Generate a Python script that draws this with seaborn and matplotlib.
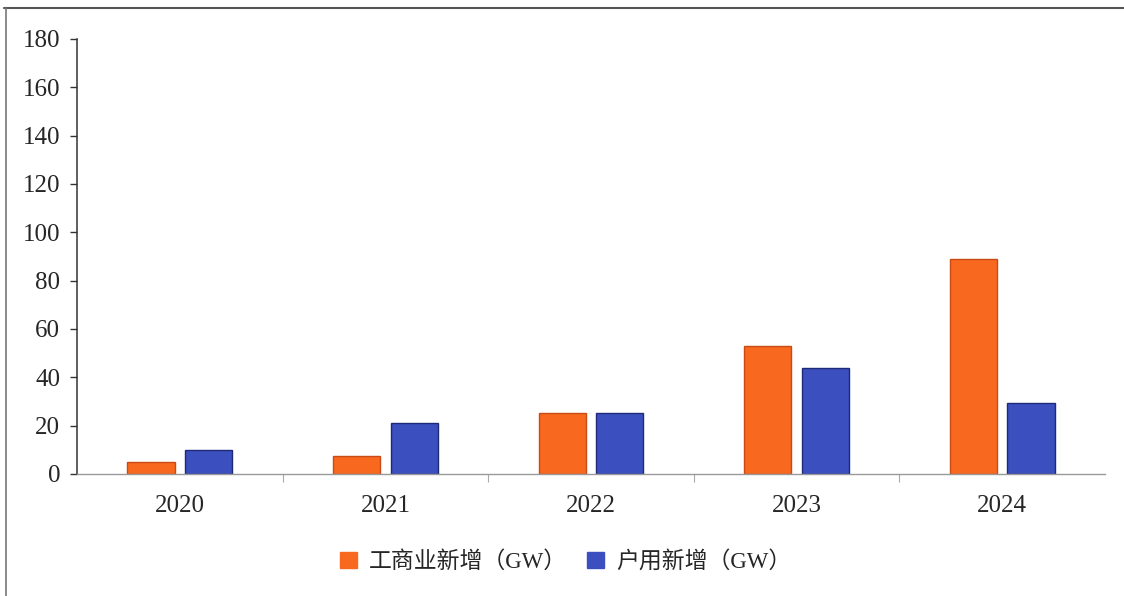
import pandas as pd
import matplotlib
matplotlib.use("Agg")
import matplotlib.pyplot as plt
import seaborn as sns
from matplotlib.lines import Line2D
from matplotlib.patches import Patch

# Chart data
years = ["2020", "2021", "2022", "2023", "2024"]
commercial = [5.0, 7.3, 25.4, 52.8, 88.8]
household = [9.8, 21.3, 25.2, 43.8, 29.3]
series_names = ["工商业新增（GW）", "户用新增（GW）"]
y_ticks = [0, 20, 40, 60, 80, 100, 120, 140, 160, 180]

colors = ["#F8691F", "#3B4FBF"]
edge_colors = ["#C94A14", "#1E2A78"]

df = pd.DataFrame({
    "year": years * 2,
    "value": commercial + household,
    "series": [series_names[0]] * len(years) + [series_names[1]] * len(years),
})

sns.set_style("white")
plt.rcParams["font.family"] = ["Liberation Serif", "Noto Sans CJK SC"]

fig = plt.figure(figsize=(11.24, 5.96), dpi=100)
ax = fig.add_axes([0.0685, 0.2047, 0.9146, 0.7299])

sns.barplot(data=df, x="year", y="value", hue="series", order=years,
            hue_order=series_names, palette=colors, width=0.56, gap=0.18,
            ax=ax, legend=False, saturation=1)

# bar outlines per series
n = len(years)
for i, bar in enumerate(ax.patches[:2 * n]):
    bar.set_edgecolor(edge_colors[i // n])
    bar.set_linewidth(1.0)

ax.set_ylim(0, 180)
ax.set_yticks(y_ticks)
ax.set_xlim(-0.5, len(years) - 0.5)
ax.set_xlabel("")
ax.set_ylabel("")

ax.tick_params(axis="y", labelsize=18, length=5, width=1, color="#333333",
               pad=7, left=True, direction="out")
ax.tick_params(axis="x", labelsize=18, length=0, pad=15)
# small separator ticks between the year groups
ax.set_xticks([i + 0.5 for i in range(len(years) - 1)], minor=True)
ax.tick_params(axis="x", which="minor", length=6, width=0.8, color="#aaaaaa",
               direction="out", bottom=True)

sns.despine(ax=ax, top=True, right=True)
ax.spines["left"].set_color("#333333")
ax.spines["left"].set_linewidth(1.1)
ax.spines["bottom"].set_color("#999999")
ax.spines["bottom"].set_linewidth(1.0)

handles = [Patch(facecolor=colors[k], edgecolor=colors[k]) for k in range(2)]
fig.legend(handles, series_names, loc="center", bbox_to_anchor=(0.503, 0.057),
           ncol=2, frameon=False, handlelength=0.75,
           handleheight=0.75, handletextpad=0.5, columnspacing=0.9,
           prop={"family": ["Liberation Serif", "Noto Sans CJK SC"], "size": 16.5})

# page border lines (top and left)
fig.add_artist(Line2D([0.004, 1.0], [0.987, 0.987], color="#555555", lw=1.5,
                      transform=fig.transFigure))
fig.add_artist(Line2D([0.005, 0.005], [0.0, 0.987], color="#777777", lw=1.2,
                      transform=fig.transFigure))

fig.savefig("out.png", dpi=100)
